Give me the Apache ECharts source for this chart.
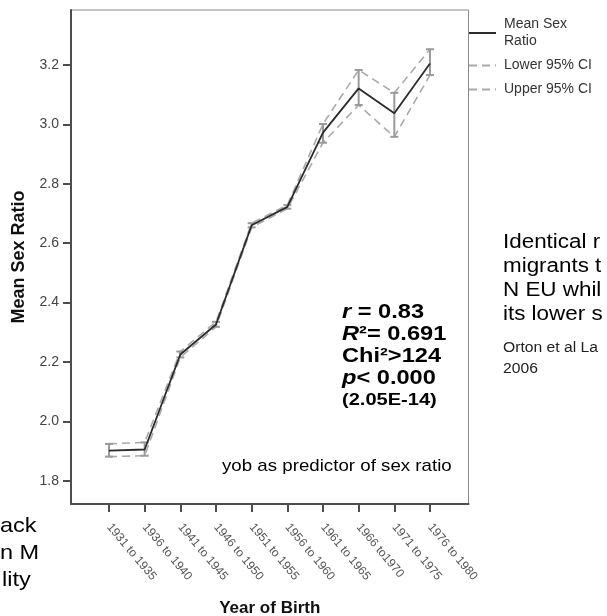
<!DOCTYPE html>
<html><head><meta charset="utf-8">
<script src="https://cdn.jsdelivr.net/npm/echarts@6/dist/echarts.min.js"></script>
<style>html,body{margin:0;padding:0;background:#fff;overflow:hidden}#c{width:607px;height:616px}</style>
</head><body><div id="c"></div>
<script>
const categories = ['1931 to 1935','1936 to 1940','1941 to 1945','1946 to 1950','1951 to 1955','1956 to 1960','1961 to 1965','1966 to1970','1971 to 1975','1976 to 1980'];
const meanRatio = [1.901, 1.905, 2.225, 2.326, 2.660, 2.722, 2.972, 3.121, 3.037, 3.205];
const lowerCI   = [1.881, 1.884, 2.215, 2.318, 2.653, 2.716, 2.938, 3.065, 2.958, 3.166];
const upperCI   = [1.924, 1.929, 2.235, 2.335, 2.667, 2.728, 3.001, 3.183, 3.106, 3.253];
const yTicks = [1.8, 2.0, 2.2, 2.4, 2.6, 2.8, 3.0, 3.2];
const xTicks = categories.map((c, i) => i);
const seriesNames = ['Mean Sex Ratio', 'Lower 95% CI', 'Upper 95% CI'];

const FONT = '"Liberation Sans", Arial, Helvetica, sans-serif';
const chart = echarts.init(document.getElementById('c'), null, {renderer: 'canvas'});

const toXY = arr => arr.map((v, i) => [i, v]);
const dashGray = {color: '#aaaaaa', width: 1.6, type: [8, 5]};

function txt(x, y, text, font, sx, fill, rich) {
  const style = {text: text, font: font, fill: fill || '#000', align: 'left', verticalAlign: 'top'};
  if (rich) style.rich = rich;
  return {type: 'text', x: x, y: y, scaleX: sx, scaleY: 1, style: style, z: 10};
}
const ital = {i: {fontStyle: 'italic', fontWeight: 'bold', fontSize: 20, fontFamily: FONT}};

chart.setOption({
  animation: false,
  textStyle: {fontFamily: FONT},
  grid: {left: 71, right: 138.5, top: 10, bottom: 112, containLabel: false, outerBoundsMode: 'none',
    show: true, borderColor: '#8a8a8a', borderWidth: 1, backgroundColor: '#fff'},
  legend: {
    orient: 'vertical', left: 468, top: 16, padding: 0, itemWidth: 27, itemHeight: 10, itemGap: 7,
    data: seriesNames,
    itemStyle: {opacity: 0},
    formatter: n => n === 'Mean Sex Ratio' ? 'Mean Sex\nRatio' : n,
    textStyle: {fontSize: 14, color: '#333', lineHeight: 17, fontFamily: FONT, padding: [0, 0, 0, 3]}
  },
  xAxis: {
    type: 'value', min: -1.065, max: 10.08,
    splitLine: {show: false},
    axisLine: {show: true, onZero: false, lineStyle: {color: '#4d4d4d', width: 2}},
    axisTick: {show: true, customValues: xTicks, length: 8, lineStyle: {color: '#4d4d4d', width: 2}},
    axisLabel: {customValues: xTicks, rotate: -50, margin: 21, fontSize: 12, color: '#555',
      formatter: v => categories[Math.round(v)] || ''},
    name: 'Year of Birth', nameLocation: 'middle', nameGap: 96,
    nameTextStyle: {fontSize: 17, fontWeight: 'bold', color: '#111', fontFamily: FONT}
  },
  yAxis: {
    type: 'value', min: 1.7215, max: 3.385,
    splitLine: {show: false},
    axisLine: {show: true, onZero: false, lineStyle: {color: '#4d4d4d', width: 2}},
    axisTick: {show: true, customValues: yTicks, length: 8, lineStyle: {color: '#4d4d4d', width: 2}},
    axisLabel: {customValues: yTicks, margin: 12, fontSize: 14, color: '#444', formatter: v => v.toFixed(1)},
    name: 'Mean Sex Ratio', nameLocation: 'middle', nameGap: 43,
    nameTextStyle: {fontSize: 18, fontWeight: 'bold', color: '#111', fontFamily: FONT}
  },
  series: [
    {name: 'Lower 95% CI', type: 'line', data: toXY(lowerCI), symbol: 'none', lineStyle: dashGray, itemStyle: {color: '#aaaaaa'}, z: 2},
    {name: 'Upper 95% CI', type: 'line', data: toXY(upperCI), symbol: 'none', lineStyle: dashGray, itemStyle: {color: '#aaaaaa'}, z: 2},
    {
      name: 'CI bars', type: 'custom', z: 3,
      data: lowerCI.map((lo, i) => [i, lo, upperCI[i]]),
      encode: {x: 0, y: [1, 2]},
      renderItem: (params, api) => {
        const x = api.value(0);
        const lo = api.coord([x, api.value(1)]);
        const hi = api.coord([x, api.value(2)]);
        const hw = 4;
        const st = {stroke: '#9a9a9a', lineWidth: 2};
        return {type: 'group', children: [
          {type: 'line', shape: {x1: lo[0], y1: lo[1], x2: hi[0], y2: hi[1]}, style: st},
          {type: 'line', shape: {x1: lo[0] - hw, y1: lo[1], x2: lo[0] + hw, y2: lo[1]}, style: st},
          {type: 'line', shape: {x1: hi[0] - hw, y1: hi[1], x2: hi[0] + hw, y2: hi[1]}, style: st}
        ]};
      }
    },
    {name: 'Mean Sex Ratio', type: 'line', data: toXY(meanRatio), symbol: 'none', lineStyle: {color: '#2b2b2b', width: 1.8}, itemStyle: {color: '#2b2b2b'}, z: 4}
  ],
  graphic: [
    txt(342, 302, '{i|r} = 0.83', 'bold 20px ' + FONT, 1.18, '#000', ital),
    txt(342, 324, '{i|R}²= 0.691', 'bold 20px ' + FONT, 1.18, '#000', ital),
    txt(342, 346, 'Chi²>124', 'bold 20px ' + FONT, 1.18),
    txt(342, 368, '{i|p}< 0.000', 'bold 20px ' + FONT, 1.18, '#000', ital),
    txt(342, 392, '(2.05E-14)', 'bold 17px ' + FONT, 1.18),
    txt(222, 458, 'yob as predictor of sex ratio', '17px ' + FONT, 1.1),
    txt(503, 232, 'Identical r', '20px ' + FONT, 1.12),
    txt(503, 256, 'migrants t', '20px ' + FONT, 1.12),
    txt(503, 280, 'N EU whil', '20px ' + FONT, 1.12),
    txt(503, 304, 'its lower s', '20px ' + FONT, 1.12),
    txt(503, 341, 'Orton et al La', '14px ' + FONT, 1.12, '#222'),
    txt(503, 362, '2006', '14px ' + FONT, 1.12, '#222'),
    txt(0, 516, 'ack', '21px ' + FONT, 1.12),
    txt(0, 543, 'n M', '21px ' + FONT, 1.12),
    txt(2, 570, 'lity', '21px ' + FONT, 1.12)
  ]
});
</script>
</body></html>
